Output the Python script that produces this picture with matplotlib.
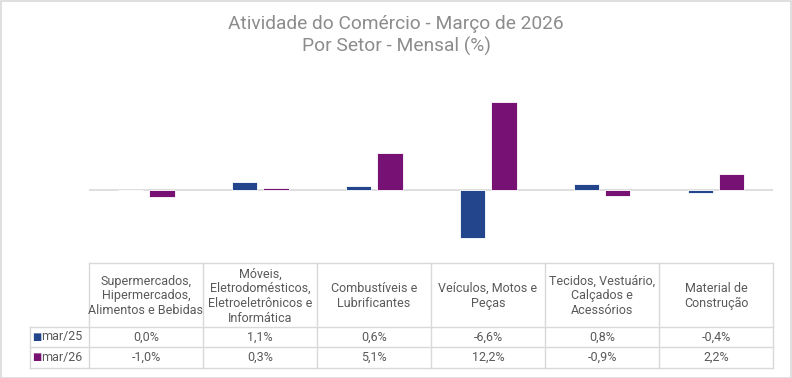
import matplotlib.pyplot as plt
from matplotlib.patches import Rectangle
import numpy as np

plt.rcParams['font.family'] = ['Roboto', 'DejaVu Sans']

# Data
setores = [
    "Supermercados,\nHipermercados,\nAlimentos e Bebidas",
    "Móveis,\nEletrodomésticos,\nEletroeletrônicos e\nInformática",
    "Combustíveis e\nLubrificantes",
    "Veículos, Motos e\nPeças",
    "Tecidos, Vestuário,\nCalçados e\nAcessórios",
    "Material de\nConstrução",
]
series_names = ["mar/25", "mar/26"]
mar25 = [0.0, 1.1, 0.6, -6.6, 0.8, -0.4]
mar26 = [-1.0, 0.3, 5.1, 12.2, -0.9, 2.2]
colors = ["#23458C", "#771173"]

W, H = 792, 378
fig = plt.figure(figsize=(W / 100, H / 100), dpi=100)


def fx(px):
    return px / W


def fy(py):
    return 1 - py / H


# outer border
fig.patches.append(Rectangle((0.5 / W, 0.5 / H), 1 - 1.5 / W, 1 - 1.5 / H,
                             transform=fig.transFigure, fill=False,
                             edgecolor="#d9d9d9", linewidth=1.2))

fig.text(0.5, fy(24), "Atividade do Comércio - Março de 2026", ha="center",
         va="center", fontsize=13.8, color="#8c8c8c")
fig.text(0.5, fy(46), "Por Setor - Mensal (%)", ha="center",
         va="center", fontsize=13.8, color="#8c8c8c")

# bar axes
x_left, x_right = 89, 773
ymin, ymax = -8, 14
pxu = 7.2
zero_px = 190
top_px = zero_px - ymax * pxu
bot_px = zero_px - ymin * pxu
ax = fig.add_axes([fx(x_left), fy(bot_px), fx(x_right - x_left), (bot_px - top_px) / H])
x = np.arange(len(setores))
bw = 0.22
off = 0.14
ax.bar(x - off, mar25, bw, color=colors[0], edgecolor="white", linewidth=0.6, zorder=3)
ax.bar(x + off, mar26, bw, color=colors[1], edgecolor="white", linewidth=0.6, zorder=3)
ax.axhline(0, color="#d9d9d9", linewidth=1.2, zorder=2)
ax.set_xlim(-0.5, len(setores) - 0.5)
ax.set_ylim(ymin, ymax)
ax.axis("off")

# data table
t_left = 30
rows_px = [263, 327, 347, 368]
tab = fig.add_axes([fx(t_left), fy(rows_px[-1]), fx(x_right - t_left),
                    (rows_px[-1] - rows_px[0]) / H])
u = (x_right - x_left) / len(setores)
lab_left = -0.5 - (x_left - t_left) / u
tab.set_xlim(lab_left, len(setores) - 0.5)
tab.set_ylim(rows_px[-1], rows_px[0])
tab.axis("off")
lc = "#d9d9d9"
lw = 1.0
# horizontal lines
tab.plot([-0.5, len(setores) - 0.5], [rows_px[0]] * 2, color=lc, lw=lw, clip_on=False)
for r in rows_px[1:]:
    tab.plot([lab_left, len(setores) - 0.5], [r, r], color=lc, lw=lw, clip_on=False)
# vertical lines
for k in range(len(setores) + 1):
    tab.plot([k - 0.5, k - 0.5], [rows_px[0], rows_px[-1]], color=lc, lw=lw, clip_on=False)
tab.plot([lab_left, lab_left], [rows_px[1], rows_px[-1]], color=lc, lw=lw, clip_on=False)

tc = "#595959"
fs = 9
for i, s in enumerate(setores):
    tab.text(i, (rows_px[0] + rows_px[1]) / 2 + 1, s, ha="center", va="center",
             fontsize=fs, color=tc, linespacing=1.18)
for r, (name, vals, c) in enumerate(zip(series_names, [mar25, mar26], colors)):
    yc = (rows_px[r + 1] + rows_px[r + 2]) / 2
    tab.text(lab_left + 0.02, yc, "■", ha="left", va="center", fontsize=7,
             color=c, family="DejaVu Sans")
    tab.text(lab_left + 0.1, yc, name, ha="left", va="center", fontsize=fs, color=tc)
    for i, v in enumerate(vals):
        tab.text(i, yc, f"{v:.1f}%".replace(".", ","), ha="center", va="center",
                 fontsize=fs, color=tc)

fig.savefig("out.png", dpi=100)
